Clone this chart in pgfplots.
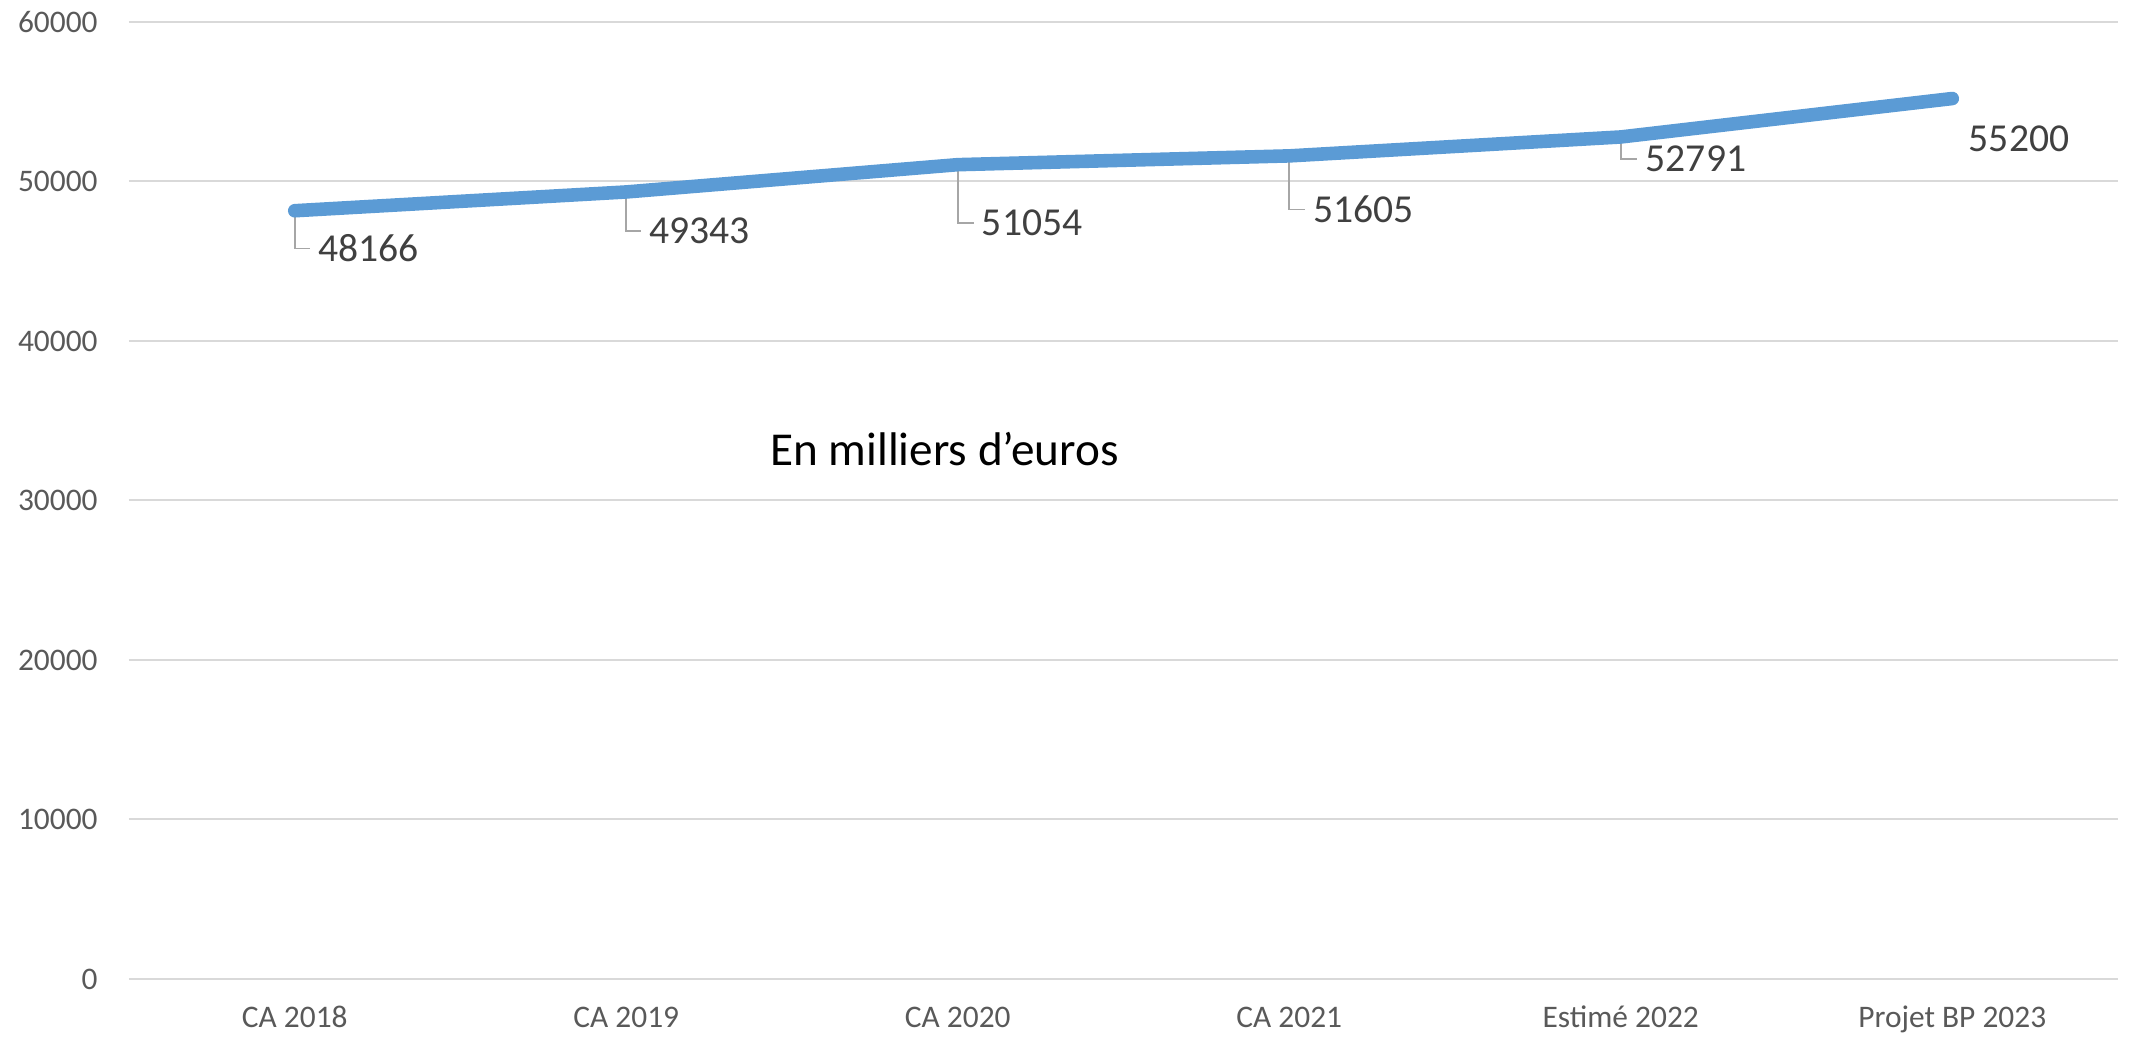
\documentclass[border=0pt]{standalone}
\usepackage{pgfplots}
\pgfplotsset{compat=1.18}
\usepackage{fontspec}
\setmainfont{Carlito}
\definecolor{lineblue}{HTML}{5B9BD5}
\definecolor{gridgray}{HTML}{D9D9D9}
\definecolor{ticktext}{HTML}{595959}
\definecolor{labeltext}{HTML}{404040}
\definecolor{leader}{HTML}{A6A6A6}
\begin{document}
\begin{tikzpicture}
\begin{axis}[
  name=ax,
  scale only axis,
  width=994.5pt, height=478.5pt,
  xmin=-0.5, xmax=5.5, ymin=0, ymax=60000,
  axis line style={draw=none},
  xtick={0,1,2,3,4,5},
  xticklabels={CA 2018, CA 2019, CA 2020, CA 2021, Estimé 2022, Projet BP 2023},
  ytick={0,10000,20000,30000,40000,50000,60000},
  yticklabels={0,10000,20000,30000,40000,50000,60000},
  scaled y ticks=false,
  major tick length=0pt,
  ymajorgrids,
  major grid style={draw=gridgray, line width=1pt},
  x tick label style={font=\fontsize{15.7}{18}\selectfont, text=ticktext, anchor=base, inner sep=0pt, yshift=-24.5pt},
  y tick label style={font=\fontsize{15.7}{18}\selectfont, text=ticktext, anchor=east, inner sep=0pt, xshift=-15.5pt},
  clip=false,
]
% leader lines
\draw[leader, line width=0.8pt] (axis cs:0,48166) -- ++(0pt,-18.9pt) -- ++(7.5pt,0pt);
\draw[leader, line width=0.8pt] (axis cs:1,49343) -- ++(0pt,-19.6pt) -- ++(7.4pt,0pt);
\draw[leader, line width=0.8pt] (axis cs:2,51054) -- ++(0pt,-29.1pt) -- ++(7.9pt,0pt);
\draw[leader, line width=0.8pt] (axis cs:3,51605) -- ++(0pt,-26.8pt) -- ++(7.7pt,0pt);
\draw[leader, line width=0.8pt] (axis cs:4,52791) -- ++(0pt,-11.1pt) -- ++(8.3pt,0pt);

\addplot[draw=lineblue, line width=6.8pt, line cap=round, line join=round, mark=none]
  coordinates {(0,48166) (1,49343) (2,51054) (3,51605) (4,52791) (5,55200)};

\addplot[draw=none, mark=none,
  nodes near coords,
  point meta=explicit symbolic,
  visualization depends on={\thisrow{dx} \as \mydx},
  visualization depends on={\thisrow{dy} \as \mydy},
  every node near coord/.append style={anchor=west, inner sep=0pt,
     xshift=\mydx pt, yshift=-\mydy pt,
     font=\fontsize{19.8}{22}\selectfont, text=labeltext},
] table[x=x, y=y, meta=lab] {
x y lab dx dy
0 48166 48166 11.5 18.9
1 49343 49343 11.4 19.6
2 51054 51054 11.9 29.1
3 51605 51605 11.7 26.8
4 52791 52791 12.3 11.1
5 55200 55200 8.1 20.1
};

\node[font=\fontsize{23.6}{26}\selectfont, text=black] at (axis cs:1.96,33200) {En milliers d’euros};
\end{axis}
\pgfresetboundingbox
\path ([xshift=-64.5pt, yshift=-29pt]ax.south west) rectangle ([xshift=5.5pt, yshift=11pt]ax.north east);
\end{tikzpicture}
\end{document}
